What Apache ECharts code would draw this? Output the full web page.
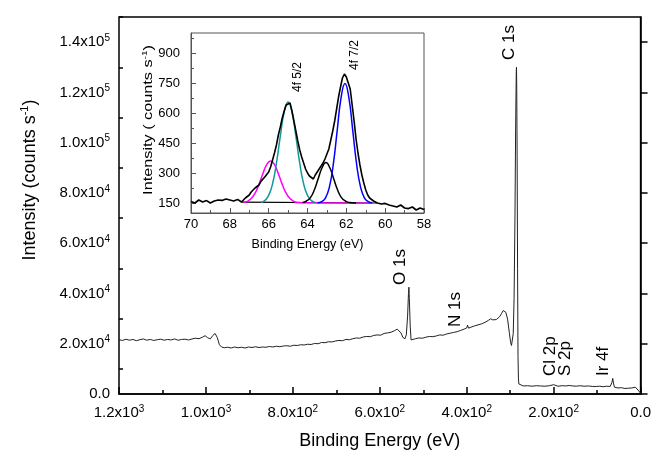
<!DOCTYPE html>
<html>
<head>
<meta charset="utf-8">
<script src="https://cdn.jsdelivr.net/npm/echarts@6/dist/echarts.min.js"></script>
<style>
  html, body { margin: 0; padding: 0; background: #fff; }
  #chart { width: 654px; height: 455px; }
</style>
</head>
<body>
<div id="chart"></div>
<script>
// survey spectrum [binding energy eV, counts/s]
var survey = [
  [1200, 21600], [1192, 21300], [1184, 21800], [1176, 21400], [1168, 21700], [1160, 21200],
  [1152, 21600], [1144, 21900], [1136, 21400], [1128, 21700], [1120, 21300], [1112, 21600],
  [1104, 21800], [1096, 21400], [1088, 21700], [1080, 21500], [1072, 21900], [1064, 21400],
  [1056, 21700], [1048, 21800], [1040, 21500], [1032, 21900], [1024, 22200], [1016, 22000],
  [1008, 22600], [1002, 23200], [996, 22400], [990, 21900], [984, 23300], [979, 24100],
  [974, 22500], [969, 19600], [964, 18700], [958, 18400], [950, 18600], [942, 18300],
  [934, 18700], [926, 18400], [918, 18600], [910, 18300], [902, 18700], [894, 18500],
  [886, 18800], [878, 18500], [870, 18700], [862, 18600], [854, 18900], [846, 18700],
  [838, 19000], [830, 18800], [822, 19100], [814, 19200], [806, 19000], [798, 19400],
  [790, 19300], [782, 19600], [774, 19500], [766, 19800], [758, 19700], [750, 20100],
  [742, 20000], [734, 20500], [726, 20400], [718, 20800], [710, 20700], [702, 21100],
  [694, 21300], [686, 21200], [678, 21700], [670, 21600], [662, 22000], [654, 22300],
  [646, 22200], [638, 22700], [630, 22900], [622, 22800], [614, 23300], [606, 23500],
  [598, 23400], [590, 24100], [582, 24300], [574, 24600], [566, 25200], [560, 25800],
  [556, 26200], [551, 24300], [547, 22500], [542, 22000], [539, 23500], [536, 31000],
  [534, 40000], [533, 42500], [532, 38000], [530, 27000], [528, 21500], [524, 21600],
  [518, 22000], [510, 22300], [502, 22200], [494, 22600], [486, 22900], [478, 22800],
  [470, 23100], [462, 23500], [454, 23400], [446, 23900], [438, 24200], [430, 24500],
  [422, 24800], [414, 25300], [406, 25800], [400, 26300], [398, 27400], [396, 26200],
  [390, 26600], [382, 27100], [374, 27500], [366, 27900], [358, 28500], [350, 29300],
  [345, 29900], [340, 29500], [336, 28900], [332, 29600], [328, 30100], [324, 30800],
  [320, 32000], [316, 33200], [313, 33800], [310, 32500], [306, 29800], [302, 24500],
  [299, 20500], [297, 19300], [295, 20000], [293, 24000], [291, 38000], [289, 70000],
  [287.5, 105000], [286, 128000], [285.5, 130000], [285, 124000], [284, 95000], [283, 50000],
  [282, 15000], [281, 6000], [280, 4000], [278, 3400], [270, 3200], [260, 3300],
  [250, 3100], [240, 3300], [230, 3200], [220, 3100], [210, 3300], [200, 3700],
  [196, 3200], [190, 3100], [180, 3300], [176, 3700], [172, 3200], [164, 3400],
  [156, 3200], [148, 3100], [140, 3300], [130, 3100], [120, 3200], [110, 3000],
  [106, 3500], [102, 3000], [94, 3100], [86, 2900], [78, 3100], [70, 3000],
  [66, 4500], [64, 6200], [62, 4000], [60, 2700], [52, 2400], [44, 2500],
  [36, 2200], [28, 2300], [20, 2400], [16, 2800], [12, 2700], [8, 2000],
  [4, 1200], [0, 300]
];

// Ir 4f high resolution scan
var ir4f = [
  [70.0, 158], [69.8, 150], [69.6, 165], [69.4, 155], [69.2, 162], [69.0, 150],
  [68.8, 160], [68.6, 165], [68.4, 163], [68.2, 170], [68.0, 165], [67.8, 160],
  [67.6, 168], [67.4, 155], [67.2, 175], [67.0, 190], [66.9, 205], [66.8, 200],
  [66.7, 225], [66.6, 235], [66.5, 240], [66.4, 258], [66.3, 268], [66.2, 280],
  [66.1, 290], [66.0, 305], [65.9, 330], [65.8, 365], [65.7, 400], [65.6, 440],
  [65.5, 490], [65.4, 530], [65.3, 575], [65.2, 610], [65.1, 640], [65.0, 650],
  [64.9, 650], [64.8, 610], [64.7, 560], [64.6, 510], [64.5, 460], [64.4, 415],
  [64.3, 380], [64.2, 350], [64.1, 320], [64.0, 300], [63.9, 285], [63.8, 280],
  [63.7, 270], [63.6, 290], [63.5, 300], [63.4, 320], [63.3, 335], [63.2, 350],
  [63.1, 370], [63.0, 395], [62.9, 420], [62.8, 465], [62.7, 510], [62.6, 560],
  [62.5, 620], [62.4, 680], [62.3, 730], [62.2, 775], [62.1, 795], [62.0, 780],
  [61.9, 770], [61.8, 720], [61.7, 640], [61.6, 560], [61.5, 470], [61.4, 400],
  [61.3, 340], [61.2, 290], [61.1, 250], [61.0, 215], [60.9, 190], [60.8, 175],
  [60.6, 160], [60.4, 150], [60.2, 145], [60.0, 148], [59.8, 140], [59.6, 135],
  [59.4, 130], [59.2, 140], [59.0, 125], [58.8, 122], [58.6, 130], [58.4, 115],
  [58.2, 125], [58.0, 118]
];

// fitted components
var fitMagenta = [
  [67.3, 152], [67.1, 158], [66.9, 172], [66.7, 199], [66.5, 243], [66.3, 296],
  [66.1, 342], [65.9, 360], [65.7, 342], [65.5, 296], [65.3, 243], [65.1, 199],
  [64.9, 172], [64.7, 158], [64.5, 152], [64.0, 151], [62.0, 150], [60.7, 149]
];
var fitTeal = [
  [66.4, 153], [66.2, 162], [66.0, 188], [65.8, 246], [65.6, 349], [65.4, 484],
  [65.2, 605], [65.0, 655], [64.8, 605], [64.6, 484], [64.4, 349], [64.2, 246],
  [64.0, 188], [63.8, 162], [63.6, 153]
];
var fitBlack = [
  [64.25, 152], [64.05, 160], [63.85, 177], [63.65, 215], [63.45, 271], [63.25, 326],
  [63.05, 352], [62.85, 326], [62.65, 271], [62.45, 215], [62.25, 177], [62.05, 160],
  [61.85, 152], [61.5, 150]
];
var fitBlue = [
  [63.47, 151], [63.27, 157], [63.07, 176], [62.87, 231], [62.67, 344], [62.47, 513],
  [62.27, 677], [62.07, 748], [61.87, 677], [61.67, 513], [61.47, 344], [61.27, 231],
  [61.07, 176], [60.87, 157], [60.67, 151]
];
var fitBaseline = [[67.4, 154], [60.4, 150]];

// tick values
var mainYMajor = [0, 20000, 40000, 60000, 80000, 100000, 120000, 140000];
var mainYMinor = [10000, 30000, 50000, 70000, 90000, 110000, 130000, 150000];
var insetYMajor = [150, 300, 450, 600, 750, 900];
var insetYMinor = [225, 375, 525, 675, 825, 975];

var FONT = 'Liberation Sans, Arial, sans-serif';

function sci(v) {
  if (v === 0) return '{a|0.0}';
  var e = Math.floor(Math.log10(v) + 1e-9);
  var m = v / Math.pow(10, e);
  return '{a|' + m.toFixed(1) + 'x10}{s|' + e + '}';
}

var mainRich = {
  a: { fontSize: 15, fontFamily: FONT, color: '#000', lineHeight: 18 },
  s: { fontSize: 10, fontFamily: FONT, color: '#000', lineHeight: 10, verticalAlign: 'top' }
};

function upText(x, y, text, size) {
  return {
    type: 'text', x: x, y: y, rotation: Math.PI / 2,
    style: {
      text: text, fontSize: size, fontFamily: FONT, fill: '#000',
      align: 'left', verticalAlign: 'middle', textAlign: 'left', textVerticalAlign: 'middle'
    }
  };
}

var chart = echarts.init(document.getElementById('chart'));

chart.setOption({
  animation: false,
  backgroundColor: '#fff',
  grid: [
    { left: 119, right: 13, top: 17, bottom: 58, show: true, borderColor: '#000', borderWidth: 1.5 },
    { left: 191, right: 230, top: 33, bottom: 242, show: true, borderColor: '#555', borderWidth: 1, backgroundColor: '#fff' }
  ],
  xAxis: [
    {
      gridIndex: 0, type: 'value', min: 0, max: 1200, interval: 200, inverse: true,
      axisLine: { lineStyle: { color: '#000', width: 1.5 } },
      axisTick: { inside: true, length: 7, lineStyle: { color: '#000', width: 1.5 } },
      minorTick: { show: true, splitNumber: 2, length: 4, lineStyle: { color: '#000', width: 1.5 } },
      splitLine: { show: false },
      axisLabel: { margin: 10, formatter: sci, rich: mainRich },
      name: 'Binding Energy (eV)', nameLocation: 'middle', nameGap: 38,
      nameTextStyle: { fontSize: 18, fontFamily: FONT, color: '#000' }
    },
    {
      gridIndex: 1, type: 'value', min: 58, max: 70, interval: 2, inverse: true,
      axisLine: { lineStyle: { color: '#555', width: 1 } },
      axisTick: { inside: true, length: 5, lineStyle: { color: '#555' } },
      minorTick: { show: true, splitNumber: 2, length: 3, lineStyle: { color: '#555' } },
      splitLine: { show: false },
      axisLabel: { margin: 5, fontSize: 13, fontFamily: FONT, color: '#000' },
      name: 'Binding Energy (eV)', nameLocation: 'middle', nameGap: 25,
      nameTextStyle: { fontSize: 12.5, fontFamily: FONT, color: '#000' }
    }
  ],
  yAxis: [
    {
      gridIndex: 0, type: 'value', min: 0, max: 150000, position: 'left',
      axisLine: { lineStyle: { color: '#000', width: 1.5 } },
      axisTick: { inside: true, length: 7, customValues: mainYMajor, lineStyle: { color: '#000', width: 1.5 } },
      splitLine: { show: false },
      axisLabel: { margin: 9, customValues: mainYMajor, formatter: sci, rich: mainRich }
    },
    {
      gridIndex: 0, type: 'value', min: 0, max: 150000, position: 'left',
      axisLine: { show: false },
      axisTick: { inside: true, length: 4, customValues: mainYMinor, lineStyle: { color: '#000', width: 1.5 } },
      splitLine: { show: false },
      axisLabel: { show: false }
    },
    {
      gridIndex: 1, type: 'value', min: 100, max: 1000, position: 'left',
      axisLine: { lineStyle: { color: '#555', width: 1 } },
      axisTick: { inside: true, length: 5, customValues: insetYMajor, lineStyle: { color: '#555' } },
      splitLine: { show: false },
      axisLabel: { margin: 11, customValues: insetYMajor, fontSize: 13, fontFamily: FONT, color: '#000' }
    },
    {
      gridIndex: 1, type: 'value', min: 100, max: 1000, position: 'left',
      axisLine: { show: false },
      axisTick: { inside: true, length: 3, customValues: insetYMinor, lineStyle: { color: '#555' } },
      splitLine: { show: false },
      axisLabel: { show: false }
    }
  ],
  series: [
    {
      type: 'line', xAxisIndex: 0, yAxisIndex: 0, data: survey, showSymbol: false,
      lineStyle: { color: '#222', width: 1 }
    },
    {
      type: 'line', xAxisIndex: 1, yAxisIndex: 2, data: fitBaseline, showSymbol: false,
      lineStyle: { color: '#000', width: 1.2 }
    },
    {
      type: 'line', xAxisIndex: 1, yAxisIndex: 2, data: fitMagenta, showSymbol: false, smooth: true,
      lineStyle: { color: '#ff00ff', width: 1.5 }
    },
    {
      type: 'line', xAxisIndex: 1, yAxisIndex: 2, data: fitTeal, showSymbol: false, smooth: true,
      lineStyle: { color: '#109a9a', width: 1.5 }
    },
    {
      type: 'line', xAxisIndex: 1, yAxisIndex: 2, data: fitBlack, showSymbol: false, smooth: true,
      lineStyle: { color: '#000', width: 1.5 }
    },
    {
      type: 'line', xAxisIndex: 1, yAxisIndex: 2, data: fitBlue, showSymbol: false, smooth: true,
      lineStyle: { color: '#0000ff', width: 1.5 }
    },
    {
      type: 'line', xAxisIndex: 1, yAxisIndex: 2, data: ir4f, showSymbol: false,
      lineStyle: { color: '#000', width: 1.6 }
    }
  ],
  graphic: [
    {
      type: 'text', x: 30, y: 180, rotation: Math.PI / 2,
      style: {
        text: '{a|Intensity (counts s}{s|-1}{a|)}',
        align: 'center', verticalAlign: 'middle', textAlign: 'center', textVerticalAlign: 'middle',
        rich: {
          a: { fontSize: 18, fontFamily: FONT, fill: '#000', lineHeight: 22 },
          s: { fontSize: 11, fontFamily: FONT, fill: '#000', lineHeight: 11, verticalAlign: 'top' }
        }
      }
    },
    {
      type: 'text', x: 148, y: 120, rotation: Math.PI / 2, scaleX: 1.25,
      style: {
        text: '{a|Intensity ( counts s}{s|-1}{a|)}',
        align: 'center', verticalAlign: 'middle', textAlign: 'center', textVerticalAlign: 'middle',
        rich: {
          a: { fontSize: 13, fontFamily: FONT, fill: '#000', lineHeight: 15 },
          s: { fontSize: 8, fontFamily: FONT, fill: '#000', lineHeight: 8, verticalAlign: 'top' }
        }
      }
    },
    upText(509, 60, 'C 1s', 17),
    upText(400, 285, 'O 1s', 17),
    upText(455, 327, 'N 1s', 17),
    upText(550, 376, 'Cl 2p', 17),
    upText(565, 376, 'S 2p', 17),
    upText(603, 376, 'Ir 4f', 17),
    upText(298, 92, '4f 5/2', 12),
    upText(355, 70, '4f 7/2', 12)
  ]
});
</script>
</body>
</html>
